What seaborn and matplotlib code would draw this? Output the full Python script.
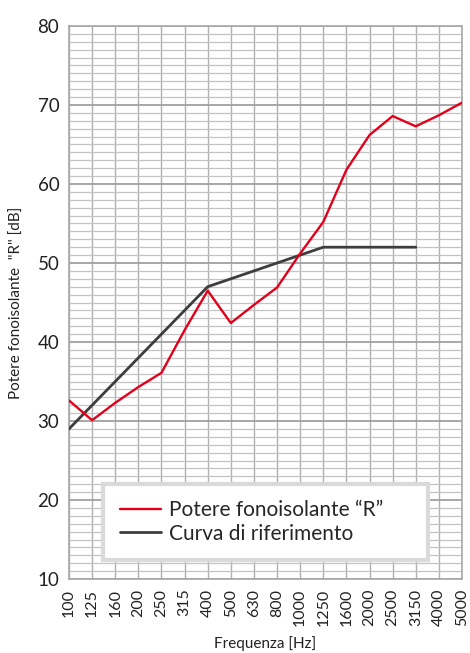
import numpy as np
import pandas as pd
import matplotlib
matplotlib.use("Agg")
import matplotlib.pyplot as plt
from matplotlib.ticker import MultipleLocator
import seaborn as sns

# Data
frequencies = ["100", "125", "160", "200", "250", "315", "400", "500", "630",
               "800", "1000", "1250", "1600", "2000", "2500", "3150", "4000", "5000"]
r_values = [32.6, 30.1, 32.3, 34.3, 36.1, 41.5, 46.5, 42.4, 44.7,
            46.9, 51.2, 55.2, 61.8, 66.2, 68.6, 67.3, 68.7, 70.3]
ref_frequencies = frequencies[:16]
ref_values = [29, 32, 35, 38, 41, 44, 47, 48, 49, 50, 51, 52, 52, 52, 52, 52]

RED = "#e3001b"
DARK = "#3d3d3d"

sns.set_theme(style="white")
plt.rcParams["font.family"] = ["Lato", "DejaVu Sans"]

df_r = pd.DataFrame({"freq": frequencies, "R": r_values})
df_ref = pd.DataFrame({"freq": ref_frequencies, "R": ref_values})

fig = plt.figure(figsize=(4.7, 6.53), dpi=100)
ax = fig.add_axes([0.1468, 0.1133, 0.8362, 0.8469])

sns.lineplot(data=df_r, x="freq", y="R", sort=False, color=RED, lw=1.7,
             label="Potere fonoisolante \u201cR\u201d", ax=ax, zorder=4)
sns.lineplot(data=df_ref, x="freq", y="R", sort=False, color=DARK, lw=2.0,
             label="Curva di riferimento", ax=ax, zorder=3)

ax.set_xlim(0, len(frequencies) - 1)
ax.set_ylim(10, 80)
ax.yaxis.set_major_locator(MultipleLocator(10))
ax.yaxis.set_minor_locator(MultipleLocator(1))

ax.grid(which="minor", axis="y", color="#c4c4c4", lw=0.9)
ax.grid(which="major", axis="y", color="#a0a0a0", lw=1.3)
ax.grid(which="major", axis="x", color="#b0b0b0", lw=1.0)
ax.set_axisbelow(True)
for s in ax.spines.values():
    s.set_color("#a8a8a8")
    s.set_linewidth(1.2)

ax.tick_params(axis="y", which="both", length=0, labelsize=13.5, pad=7, colors="#222222")
ax.tick_params(axis="x", length=0, labelsize=11.5, pad=7, rotation=90, colors="#222222")

ax.set_xlabel("Frequenza [Hz]", fontsize=11, color="#222222")
ax.set_ylabel("Potere fonoisolante  \"R\" [dB]", fontsize=11, color="#222222")
ax.xaxis.set_label_coords(0.5, -0.103)
ax.yaxis.set_label_coords(-0.115, 0.5)

leg = ax.legend(loc="lower left", bbox_to_anchor=(0.0865, 0.034, 0.827, 0.143),
                mode="expand", fontsize=15, frameon=True, fancybox=False,
                handlelength=2.0, handletextpad=0.35, borderpad=0.8,
                labelspacing=0.15, borderaxespad=0)
leg.get_frame().set_edgecolor("#dadada")
leg.get_frame().set_linewidth(3)
leg.get_frame().set_facecolor("white")
leg.get_frame().set_alpha(1)

fig.savefig("out.png", dpi=100)
